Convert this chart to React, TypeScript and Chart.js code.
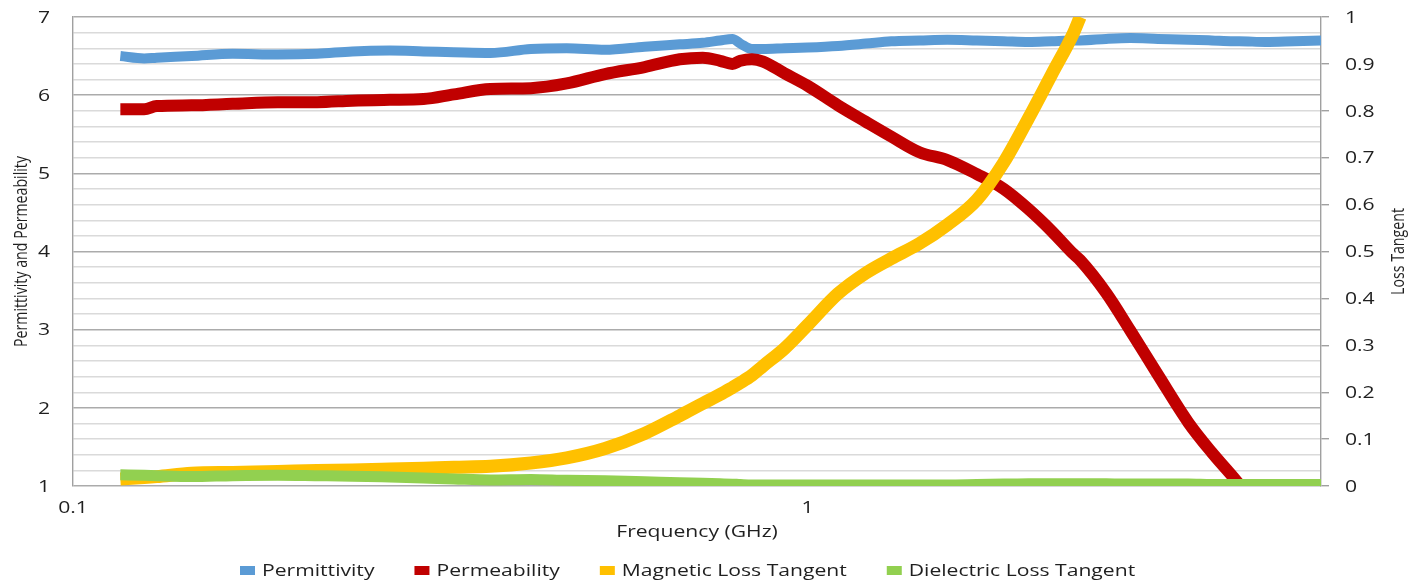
import React, { useEffect, useRef } from 'react';
import { Chart, registerables } from 'chart.js';

Chart.register(...registerables);

// ---- data ----
const FREQ_GHZ = [
  0.116, 0.125, 0.13, 0.145, 0.165, 0.19, 0.215, 0.24, 0.27, 0.3, 0.33, 0.37,
  0.42, 0.47, 0.53, 0.6, 0.67, 0.72, 0.76, 0.79, 0.81, 0.84, 0.87, 0.93, 1.0,
  1.1, 1.2, 1.3, 1.42, 1.55, 1.7, 1.85, 2.0, 2.15, 2.3, 2.35, 2.55, 2.75, 3.0,
  3.3, 3.55, 3.8, 3.87, 4.2, 4.6, 5.0,
];

const PERMITTIVITY = [
  6.5, 6.47, 6.48, 6.5, 6.53, 6.52, 6.53, 6.56, 6.57, 6.56, 6.55, 6.54,
  6.59, 6.6, 6.58, 6.62, 6.65, 6.67, 6.7, 6.72, 6.66, 6.59, 6.59, 6.6, 6.61,
  6.63, 6.66, 6.69, 6.7, 6.71, 6.7, 6.69, 6.68, 6.69, 6.7, 6.7, 6.72, 6.73, 6.72,
  6.71, 6.7, 6.69, 6.69, 6.68, 6.69, 6.7,
];

const PERMEABILITY = [
  5.82, 5.82, 5.86, 5.87, 5.89, 5.91, 5.91, 5.93, 5.94, 5.95, 6.01, 6.08,
  6.09, 6.15, 6.27, 6.36, 6.46, 6.48, 6.44, 6.4, 6.44, 6.46, 6.43, 6.28, 6.12,
  5.87, 5.66, 5.47, 5.27, 5.17, 4.99, 4.8, 4.54, 4.26, 3.97, 3.89, 3.47, 2.99, 2.42,
  1.81, 1.43, 1.11, 1.02, null, null, null,
];

const MAGNETIC_LOSS_TANGENT = [
  0.015, 0.018, 0.02, 0.027, 0.029, 0.031, 0.033, 0.034, 0.036, 0.038, 0.04, 0.042,
  0.049, 0.06, 0.08, 0.112, 0.15, 0.176, 0.195, 0.21, 0.22, 0.236, 0.256, 0.293, 0.343,
  0.41, 0.454, 0.485, 0.517, 0.557, 0.61, 0.69, 0.785, 0.878, 0.965, 1.0, null, null, null,
  null, null, null, null, null, null, null,
];

const DIELECTRIC_LOSS_TANGENT = [
  0.024, 0.023, 0.022, 0.02, 0.022, 0.023, 0.022, 0.021, 0.019, 0.017, 0.015, 0.013,
  0.014, 0.012, 0.011, 0.009, 0.007, 0.006, 0.005, 0.004, 0.003, 0.002, 0.002, 0.002, 0.002,
  0.002, 0.002, 0.002, 0.002, 0.002, 0.003, 0.004, 0.005, 0.005, 0.005, 0.005, 0.005, 0.004, 0.004,
  0.004, 0.003, 0.003, 0.003, 0.003, 0.003, 0.003,
];

const SERIES_NAMES = ['Permittivity', 'Permeability', 'Magnetic Loss Tangent', 'Dielectric Loss Tangent'];
const SERIES_COLORS = ['#5B9BD5', '#C00000', '#FFC000', '#92D050'];

const LEFT_TICK_LABELS = ['1', '2', '3', '4', '5', '6', '7'];
const RIGHT_TICK_LABELS = ['0', '0.1', '0.2', '0.3', '0.4', '0.5', '0.6', '0.7', '0.8', '0.9', '1'];
const X_TICK_LABELS = ['0.1', '1'];

const X_TITLE = 'Frequency (GHz)';
const LEFT_TITLE = 'Permittivity and Permeability';
const RIGHT_TITLE = 'Loss Tangent';

// ---- styles ----
const FONT = "'Open Sans', 'DejaVu Sans', sans-serif";
const STRETCH = 1.32;
const TEXT_COLOR = '#1f1f1f';
const MAJOR_GRID = '#ababab';
const MINOR_GRID = '#dadada';
const AXIS_COLOR = '#a0a0a0';

function drawStretched(
  ctx: CanvasRenderingContext2D,
  text: string,
  x: number,
  y: number,
  align: CanvasTextAlign,
  size: number,
): number {
  ctx.save();
  ctx.font = `${size}px ${FONT}`;
  ctx.textAlign = align;
  ctx.textBaseline = 'alphabetic';
  ctx.translate(x, y);
  ctx.scale(STRETCH, 1);
  ctx.fillText(text, 0, 0);
  const w = ctx.measureText(text).width * STRETCH;
  ctx.restore();
  return w;
}

function drawRotated(ctx: CanvasRenderingContext2D, text: string, x: number, y: number, size: number) {
  ctx.save();
  ctx.font = `${size}px ${FONT}`;
  ctx.textAlign = 'center';
  ctx.textBaseline = 'alphabetic';
  ctx.translate(x, y);
  ctx.rotate(-Math.PI / 2);
  ctx.scale(1, 1.34);
  ctx.fillText(text, 0, 0);
  ctx.restore();
}

const textPlugin = {
  id: 'stretchedText',
  afterDraw(chart: any) {
    const { ctx, chartArea, scales } = chart;
    const xs = scales.x;
    const ys = scales.y;
    const ys1 = scales.y1;
    const size = 16;
    const capMid = 0.357 * size;
    ctx.save();
    ctx.fillStyle = TEXT_COLOR;

    LEFT_TICK_LABELS.forEach((l) => {
      const py = ys.getPixelForValue(Number(l));
      drawStretched(ctx, l, chartArea.left - 23, py + capMid, 'right', size);
    });
    RIGHT_TICK_LABELS.forEach((l) => {
      const py = ys1.getPixelForValue(Number(l));
      drawStretched(ctx, l, chartArea.right + 24, py + capMid, 'left', size);
    });
    X_TICK_LABELS.forEach((l) => {
      const px = xs.getPixelForValue(Number(l));
      drawStretched(ctx, l, px, chartArea.bottom + 21.5 + capMid, 'center', size);
    });

    drawStretched(ctx, X_TITLE, (chartArea.left + chartArea.right) / 2, chartArea.bottom + 50.5, 'center', size);

    const midY = (chartArea.top + chartArea.bottom) / 2;
    drawRotated(ctx, LEFT_TITLE, 27, midY, 14.2);
    drawRotated(ctx, RIGHT_TITLE, chartArea.right + 82.5, midY, 14.2);

    // legend
    let lx = 240;
    const boxTop = 566;
    SERIES_NAMES.forEach((name, i) => {
      ctx.fillStyle = SERIES_COLORS[i];
      ctx.fillRect(lx, boxTop, 15, 9);
      ctx.fillStyle = TEXT_COLOR;
      const w = drawStretched(ctx, name, lx + 22, 576, 'left', size);
      lx = lx + 22 + w + 40;
    });
    ctx.restore();
  },
};

const isMajor = (v: number) => Math.abs(v - Math.round(v)) < 1e-6;

export default function App() {
  const canvasRef = useRef<HTMLCanvasElement | null>(null);

  useEffect(() => {
    document.body.style.margin = '0';
    const canvas = canvasRef.current;
    if (!canvas) return;
    const seriesData = [PERMITTIVITY, PERMEABILITY, MAGNETIC_LOSS_TANGENT, DIELECTRIC_LOSS_TANGENT];
    const axisIds = ['y', 'y', 'y1', 'y1'];
    const widths = [10, 12, 13, 11];
    const orders = [4, 3, 2, 1];

    const chart = new Chart(canvas, {
      type: 'line',
      data: {
        labels: FREQ_GHZ,
        datasets: SERIES_NAMES.map((name, i) => ({
          label: name,
          data: seriesData[i],
          yAxisID: axisIds[i],
          borderColor: SERIES_COLORS[i],
          backgroundColor: SERIES_COLORS[i],
          borderWidth: widths[i],
          pointRadius: 0,
          pointHoverRadius: 0,
          cubicInterpolationMode: 'monotone',
          borderCapStyle: 'butt',
          borderJoinStyle: 'round',
          spanGaps: false,
          fill: false,
          order: orders[i],
        })),
      },
      options: {
        responsive: false,
        animation: false,
        layout: { padding: { top: 17, bottom: 40, left: 0, right: 0 } },
        plugins: {
          legend: { display: false },
          tooltip: { enabled: false },
          title: { display: false },
        },
        scales: {
          x: {
            type: 'logarithmic',
            position: 'bottom',
            min: 0.1,
            max: 5,
            grid: { display: false },
            border: { display: false },
            ticks: { display: false },
            afterFit: (s: any) => {
              s.height = 56;
            },
          },
          y: {
            type: 'linear',
            position: 'left',
            min: 1,
            max: 7,
            ticks: { display: false, stepSize: 0.2 },
            grid: {
              drawTicks: false,
              color: (c: any) => (c.tick && isMajor(c.tick.value) ? MAJOR_GRID : MINOR_GRID),
              lineWidth: 1.4,
            },
            border: { display: true, color: AXIS_COLOR, width: 1.4 },
            afterFit: (s: any) => {
              s.width = 73;
            },
          },
          y1: {
            type: 'linear',
            position: 'right',
            min: 0,
            max: 1,
            ticks: { display: false, stepSize: 0.1 },
            grid: {
              drawOnChartArea: false,
              drawTicks: true,
              tickLength: 8,
              color: AXIS_COLOR,
              lineWidth: 1.4,
            },
            border: { display: true, color: AXIS_COLOR, width: 1.4 },
            afterFit: (s: any) => {
              s.width = 105;
            },
          },
        },
      },
      plugins: [textPlugin],
    } as any);

    return () => {
      chart.destroy();
    };
  }, []);

  return (
    <div style={{ width: 1426, height: 582, background: '#ffffff' }}>
      <canvas ref={canvasRef} width={1426} height={582} style={{ display: 'block' }} />
    </div>
  );
}
